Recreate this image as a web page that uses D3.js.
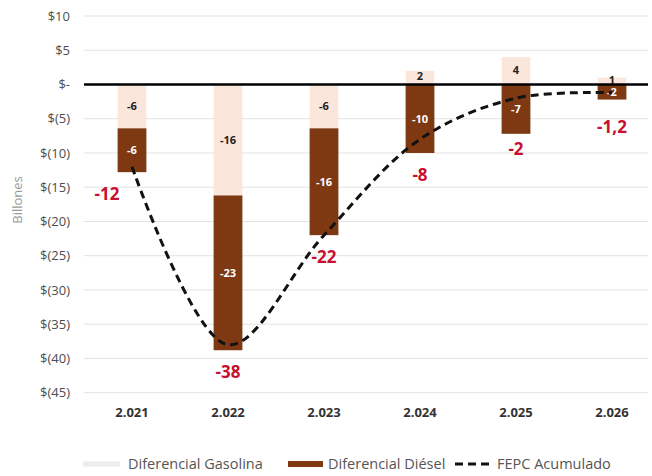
<!DOCTYPE html>
<html>
<head>
<meta charset="utf-8">
<script src="https://cdn.jsdelivr.net/npm/d3@7"></script>
<style>
  body { margin: 0; background: #fff; }
  text { font-family: "Open Sans", "Liberation Sans", sans-serif; }
</style>
</head>
<body>
<div id="chart"></div>
<script>
// Data
var years = ["2.021", "2.022", "2.023", "2.024", "2.025", "2.026"];
var gasolina = [-6.4, -16.2, -6.4, 2, 4, 1];
var diesel = [-6.4, -22.6, -15.6, -10, -7.2, -2.2];
var fepc = [-12, -38, -22, -8, -2, -1.2];
var yTicks = [10, 5, 0, -5, -10, -15, -20, -25, -30, -35, -40, -45];

var svgWidth = 652;
var svgHeight = 476;

var svg = d3.select("#chart")
  .append("svg")
  .attr("width", svgWidth)
  .attr("height", svgHeight);

var plotLeft = 84;
var plotRight = 648;

var xScale = d3.scaleBand()
  .domain(years)
  .range([84, 660])
  .paddingInner(0.7)
  .paddingOuter(0.35);

var yScale = d3.scaleLinear()
  .domain([-45, 10])
  .range([392.7, 16]);

var locale = d3.formatLocale({
  decimal: ",", thousands: ".", grouping: [3], currency: ["$", ""], minus: "-"
});
var fmtLabel = locale.format(".3~r");

function moneyTick(d) {
  if (d === 0) return "$-";
  if (d < 0) return "$(" + Math.abs(d) + ")";
  return "$" + d;
}

// gridlines
svg.append("g")
  .selectAll("line")
  .data(yTicks.filter(d => d !== 0))
  .enter()
  .append("line")
  .attr("x1", plotLeft)
  .attr("x2", plotRight)
  .attr("y1", d => yScale(d))
  .attr("y2", d => yScale(d))
  .attr("stroke", "#e3e3e3")
  .attr("stroke-width", 1);

// y axis labels
var yAxis = d3.axisLeft(yScale)
  .tickValues(yTicks)
  .tickFormat(moneyTick)
  .tickSize(0)
  .tickPadding(0);

svg.append("g")
  .attr("transform", "translate(70,0)")
  .call(yAxis)
  .call(g => g.select(".domain").remove())
  .selectAll("text")
  .attr("font-size", "13px")
  .attr("fill", "#4d4d4d");

svg.append("text")
  .attr("transform", "translate(22,200) rotate(-90)")
  .attr("text-anchor", "middle")
  .attr("font-size", "13px")
  .attr("fill", "#9a9a9a")
  .text("Billones");

// stacked bars
var rows = years.map((y, i) => ({ year: y, gasolina: gasolina[i], diesel: diesel[i] }));
var stack = d3.stack()
  .keys(["gasolina", "diesel"])
  .offset(d3.stackOffsetDiverging);
var series = stack(rows);

var colors = { gasolina: "#fae6da", diesel: "#7e3912" };
var labelColors = { gasolina: "#222", diesel: "#fff" };

var barGroups = svg.selectAll(".series")
  .data(series)
  .enter()
  .append("g")
  .attr("class", "series");

barGroups.selectAll("rect")
  .data(d => d.map(p => ({ key: d.key, p: p })))
  .enter()
  .append("rect")
  .attr("x", d => xScale(d.p.data.year))
  .attr("width", xScale.bandwidth())
  .attr("y", d => yScale(Math.max(d.p[0], d.p[1])))
  .attr("height", d => Math.abs(yScale(d.p[0]) - yScale(d.p[1])))
  .attr("fill", d => colors[d.key]);

// FEPC line
var line = d3.line()
  .x((d, i) => xScale(years[i]) + xScale.bandwidth() / 2)
  .y(d => yScale(d))
  .curve(d3.curveCatmullRom.alpha(0.5));

svg.append("path")
  .datum(fepc)
  .attr("d", line)
  .attr("fill", "none")
  .attr("stroke", "#111")
  .attr("stroke-width", 3)
  .attr("stroke-dasharray", "8,5");

// zero line
svg.append("line")
  .attr("x1", plotLeft)
  .attr("x2", plotRight)
  .attr("y1", yScale(0))
  .attr("y2", yScale(0))
  .attr("stroke", "#000")
  .attr("stroke-width", 2.5);

// labels in bars
barGroups.selectAll("text")
  .data(d => d.map(p => ({ key: d.key, p: p })))
  .enter()
  .append("text")
  .attr("x", d => xScale(d.p.data.year) + xScale.bandwidth() / 2)
  .attr("y", d => yScale((d.p[0] + d.p[1]) / 2) + (d.p.data[d.key] > 0 ? -1 : 0))
  .attr("dy", "0.35em")
  .attr("text-anchor", "middle")
  .attr("font-size", "11px")
  .attr("font-weight", "bold")
  .attr("fill", d => labelColors[d.key])
  .text(d => Math.round(d.p.data[d.key]));

// FEPC value labels, placed under the bar / line
var labelNudge = [0, 0, 0, 0, -7, 5];
svg.append("g")
  .selectAll("text")
  .data(fepc)
  .enter()
  .append("text")
  .attr("x", (d, i) => xScale(years[i]) + xScale.bandwidth() / 2 + (i === 0 ? -25 : 0))
  .attr("y", (d, i) => {
    var bottom = Math.min(gasolina[i], 0) + Math.min(diesel[i], 0);
    return yScale(Math.min(bottom, d)) + 28 + labelNudge[i];
  })
  .attr("text-anchor", "middle")
  .attr("font-size", "17px")
  .attr("font-weight", "bold")
  .attr("fill", "#c8102e")
  .text(d => fmtLabel(d));

// x axis labels
svg.append("g")
  .selectAll("text")
  .data(years)
  .enter()
  .append("text")
  .attr("x", d => xScale(d) + xScale.bandwidth() / 2)
  .attr("y", 417)
  .attr("text-anchor", "middle")
  .attr("font-size", "13px")
  .attr("font-weight", "bold")
  .attr("fill", "#333")
  .text(d => d);

// legend
var legend = svg.append("g").attr("transform", "translate(0,464)");

legend.append("rect")
  .attr("x", 83).attr("y", -2.5).attr("width", 37).attr("height", 5)
  .attr("fill", "#ececec");
legend.append("text")
  .attr("x", 128).attr("y", 0).attr("dy", "0.35em")
  .attr("font-size", "14.5px").attr("fill", "#555")
  .text("Diferencial Gasolina");

legend.append("rect")
  .attr("x", 288).attr("y", -3).attr("width", 35).attr("height", 6)
  .attr("fill", colors.diesel);
legend.append("text")
  .attr("x", 328).attr("y", 0).attr("dy", "0.35em")
  .attr("font-size", "14.5px").attr("fill", "#555")
  .text("Diferencial Diésel");

legend.append("line")
  .attr("x1", 455).attr("x2", 491).attr("y1", 0).attr("y2", 0)
  .attr("stroke", "#111").attr("stroke-width", 3)
  .attr("stroke-dasharray", "8,5");
legend.append("text")
  .attr("x", 497).attr("y", 0).attr("dy", "0.35em")
  .attr("font-size", "14.5px").attr("fill", "#555")
  .text("FEPC Acumulado");
</script>
</body>
</html>
